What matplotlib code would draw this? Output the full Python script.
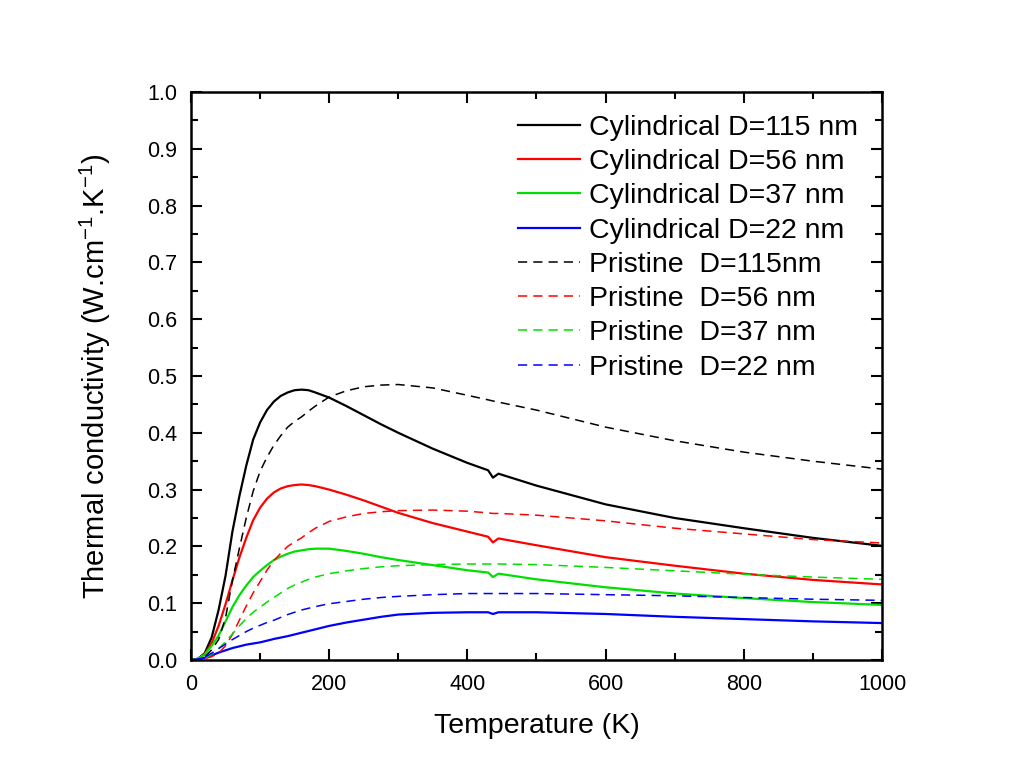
import numpy as np
import matplotlib
matplotlib.use("Agg")
import matplotlib.pyplot as plt

plt.rcParams['font.family'] = ['Liberation Sans', 'DejaVu Sans']
plt.rcParams['mathtext.fontset'] = 'custom'
plt.rcParams['mathtext.rm'] = 'Liberation Sans'
plt.rcParams['mathtext.it'] = 'Liberation Sans:italic'

# temperature grid (K)
T = [0, 10, 20, 30, 40, 50, 60, 70, 80, 90, 100, 110, 120, 130, 140, 150, 160, 170,
     180, 200, 225, 250, 275, 300, 350, 400, 430, 437, 445, 500, 600, 700, 800, 900, 1000]

# cylindrical nanowires
cyl_115 = [0.0, 0.002, 0.012, 0.040, 0.088, 0.148, 0.226, 0.288, 0.342, 0.388, 0.418,
           0.440, 0.455, 0.465, 0.471, 0.475, 0.476, 0.475, 0.471, 0.462, 0.447, 0.431,
           0.415, 0.400, 0.372, 0.347, 0.334, 0.321, 0.328, 0.307, 0.274, 0.250, 0.232,
           0.215, 0.201]
cyl_56 = [0.0, 0.002, 0.010, 0.030, 0.060, 0.098, 0.140, 0.180, 0.215, 0.246, 0.268,
          0.284, 0.295, 0.302, 0.306, 0.308, 0.309, 0.308, 0.306, 0.300, 0.291, 0.281,
          0.270, 0.259, 0.241, 0.226, 0.217, 0.207, 0.214, 0.202, 0.181, 0.166, 0.152,
          0.141, 0.133]
cyl_37 = [0.0, 0.002, 0.010, 0.025, 0.043, 0.068, 0.093, 0.114, 0.131, 0.146, 0.157,
          0.167, 0.176, 0.182, 0.187, 0.191, 0.193, 0.195, 0.196, 0.196, 0.192, 0.187,
          0.181, 0.176, 0.167, 0.158, 0.154, 0.146, 0.152, 0.142, 0.128, 0.117, 0.109,
          0.102, 0.097]
cyl_22 = [0.0, 0.001, 0.004, 0.008, 0.013, 0.017, 0.021, 0.024, 0.027, 0.029, 0.031,
          0.034, 0.037, 0.0395, 0.042, 0.045, 0.048, 0.051, 0.054, 0.060, 0.066, 0.071,
          0.076, 0.080, 0.083, 0.084, 0.084, 0.081, 0.084, 0.084, 0.081, 0.076, 0.072,
          0.068, 0.065]

# pristine nanowires
pri_115 = [0.0, 0.0, 0.005, 0.018, 0.036, 0.074, 0.140, 0.196, 0.250, 0.297, 0.332,
           0.357, 0.378, 0.395, 0.410, 0.420, 0.428, 0.438, 0.447, 0.463, 0.474, 0.481,
           0.484, 0.485, 0.479, 0.466, 0.458, 0.456, 0.454, 0.440, 0.410, 0.386, 0.366,
           0.350, 0.336]
pri_56 = [0.0, 0.0, 0.002, 0.006, 0.012, 0.025, 0.045, 0.070, 0.095, 0.118, 0.138,
          0.158, 0.175, 0.188, 0.200, 0.208, 0.215, 0.224, 0.232, 0.244, 0.252, 0.258,
          0.261, 0.263, 0.264, 0.262, 0.259, 0.258, 0.258, 0.255, 0.245, 0.232, 0.222,
          0.212, 0.206]
pri_37 = [0.0, 0.0, 0.003, 0.010, 0.020, 0.032, 0.046, 0.060, 0.073, 0.084, 0.093,
          0.102, 0.110, 0.118, 0.126, 0.132, 0.137, 0.142, 0.146, 0.152, 0.157, 0.161,
          0.164, 0.166, 0.168, 0.169, 0.169, 0.169, 0.169, 0.168, 0.163, 0.157, 0.151,
          0.146, 0.142]
pri_22 = [0.0, 0.001, 0.005, 0.012, 0.020, 0.028, 0.036, 0.043, 0.050, 0.056, 0.061,
          0.066, 0.070, 0.075, 0.080, 0.084, 0.088, 0.091, 0.094, 0.099, 0.103, 0.107,
          0.110, 0.112, 0.115, 0.117, 0.117, 0.117, 0.117, 0.117, 0.115, 0.113, 0.110,
          0.107, 0.105]

colors = ['black', '#ff0000', '#00e000', '#0000ff']
cyl = [cyl_115, cyl_56, cyl_37, cyl_22]
pri = [pri_115, pri_56, pri_37, pri_22]
cyl_labels = ['Cylindrical D=115 nm', 'Cylindrical D=56 nm',
              'Cylindrical D=37 nm', 'Cylindrical D=22 nm']
pri_labels = ['Pristine  D=115nm', 'Pristine  D=56 nm',
              'Pristine  D=37 nm', 'Pristine  D=22 nm']

fig = plt.figure(figsize=(10.13, 7.83), dpi=100)
ax = fig.add_axes([0.1885, 0.1571, 0.6822, 0.7254])

for y, c, lab in zip(cyl, colors, cyl_labels):
    ax.plot(T, y, color=c, lw=1.6, label=lab)
for y, c, lab in zip(pri, colors, pri_labels):
    ax.plot(T, y, color=c, lw=1.1, ls=(0, (6, 4)), label=lab)

ax.set_xlim(0, 1000)
ax.set_ylim(0, 1.0)
ax.set_xticks(np.arange(0, 1001, 200))
ax.set_xticks(np.arange(0, 1001, 100), minor=True)
ax.set_yticks(np.arange(0, 1.01, 0.1))
ax.set_yticks(np.arange(0, 1.01, 0.05), minor=True)
ax.set_yticklabels([f'{v:.1f}' for v in np.arange(0, 1.01, 0.1)])
ax.tick_params(which='both', direction='in', top=True, right=True, width=1.5,
               labelsize=15.5)
ax.tick_params(which='major', length=8, pad=10)
ax.tick_params(which='minor', length=5)
for s in ax.spines.values():
    s.set_linewidth(1.8)

ax.set_xlabel('Temperature (K)', fontsize=20.5, labelpad=13)
ax.set_ylabel('Thermal conductivity (W.cm$^{-1}$.K$^{-1}$)', fontsize=21, labelpad=24)

ax.legend(loc='upper right', bbox_to_anchor=(0.99, 0.99), frameon=False,
          fontsize=20.5, handlelength=2.2, handletextpad=0.3, labelspacing=0.29,
          borderaxespad=0.2)

fig.savefig('out.png', dpi=100, facecolor='white')
